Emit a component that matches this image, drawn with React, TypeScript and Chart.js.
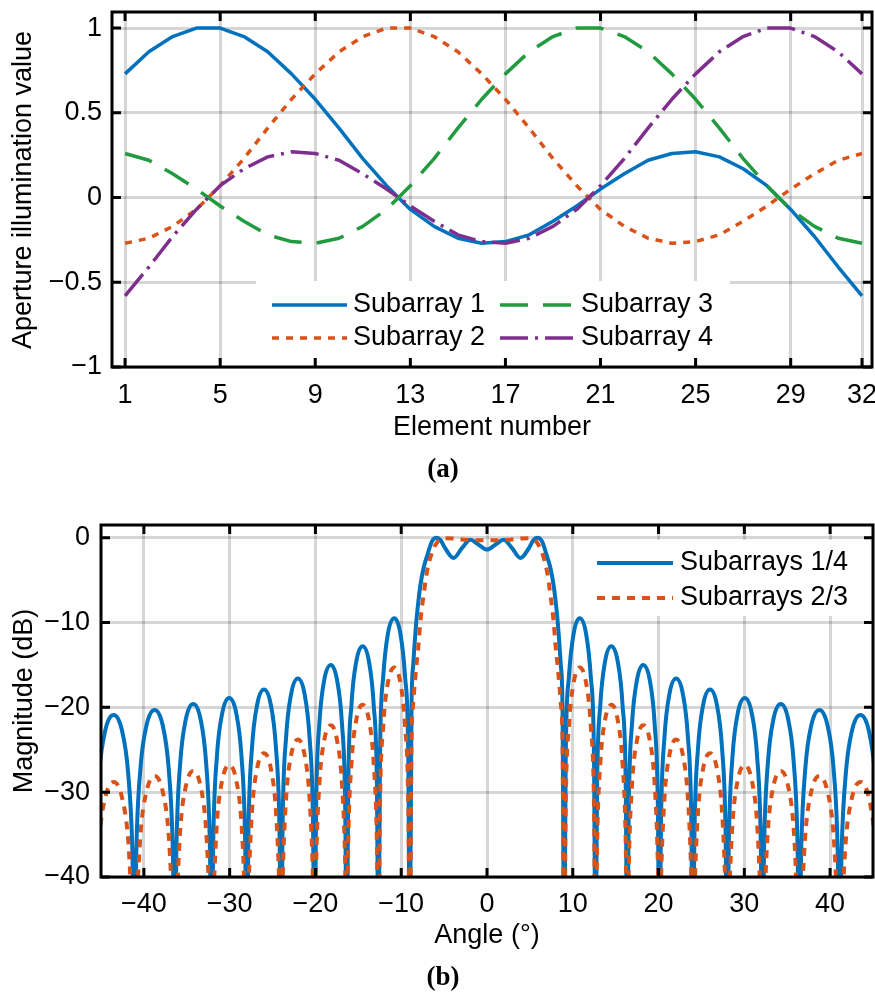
import React, { useEffect, useRef } from "react";
import { Chart, registerables } from "chart.js";

Chart.register(...registerables);

// ---------- (a) aperture illumination ----------
const ELEMENTS = [1, 2, 3, 4, 5, 6, 7, 8, 9, 10, 11, 12, 13, 14, 15, 16, 17, 18, 19, 20, 21, 22, 23, 24, 25, 26, 27, 28, 29, 30, 31, 32];
const SUBARRAY_1 = [0.73, 0.86, 0.95, 1.0, 1.0, 0.95, 0.86, 0.73, 0.58, 0.41, 0.23, 0.07, -0.07, -0.17, -0.24, -0.27, -0.26, -0.22, -0.14, -0.05, 0.05, 0.14, 0.22, 0.26, 0.27, 0.24, 0.17, 0.07, -0.07, -0.23, -0.41, -0.58];
const SUBARRAY_2 = [-0.27, -0.24, -0.17, -0.07, 0.07, 0.23, 0.41, 0.58, 0.73, 0.86, 0.95, 1.0, 1.0, 0.95, 0.86, 0.73, 0.58, 0.41, 0.23, 0.07, -0.07, -0.17, -0.24, -0.27, -0.26, -0.22, -0.14, -0.05, 0.05, 0.14, 0.22, 0.26];
const SUBARRAY_3 = [0.26, 0.22, 0.14, 0.05, -0.05, -0.14, -0.22, -0.26, -0.27, -0.24, -0.17, -0.07, 0.07, 0.23, 0.41, 0.58, 0.73, 0.86, 0.95, 1.0, 1.0, 0.95, 0.86, 0.73, 0.58, 0.41, 0.23, 0.07, -0.07, -0.17, -0.24, -0.27];
const SUBARRAY_4 = [-0.58, -0.41, -0.23, -0.07, 0.07, 0.17, 0.24, 0.27, 0.26, 0.22, 0.14, 0.05, -0.05, -0.14, -0.22, -0.26, -0.27, -0.24, -0.17, -0.07, 0.07, 0.23, 0.41, 0.58, 0.73, 0.86, 0.95, 1.0, 1.0, 0.95, 0.86, 0.73];
const X_TICKS_A = [1, 5, 9, 13, 17, 21, 25, 29, 32];
const Y_TICKS_A = [-1, -0.5, 0, 0.5, 1];

// ---------- (b) beam pattern ----------
const ANGLES = [
  -45.95, -45.71, -45.22, -44.5, -43.53, -42.56, -41.83, -41.34,
  -41.1, -40.87, -40.4, -39.69, -38.75, -37.81, -37.11, -36.64,
  -36.4, -36.19, -35.76, -35.11, -34.25, -33.39, -32.75, -32.32,
  -32.1, -31.9, -31.49, -30.87, -30.05, -29.23, -28.62, -28.21,
  -28.0, -27.8, -27.4, -26.8, -26.0, -25.2, -24.6, -24.2,
  -24.0, -23.81, -23.42, -22.83, -22.05, -21.27, -20.69, -20.3,
  -20.1, -19.91, -19.54, -18.98, -18.2, -17.48, -16.91, -16.54,
  -16.35, -16.17, -15.8, -15.24, -14.5, -13.76, -13.21, -12.84,
  -12.65, -12.47, -12.1, -11.55, -10.8, -10.1, -9.55, -9.18,
  -9.0, -8.8, -8.6, -8.25, -8.0, -7.75, -7.4, -7.0, -6.4, -5.85, -5.4, -4.9, -3.9, -2.9, -1.95, -1.0,
  0,
  1.0, 1.95, 2.9, 3.9, 4.9, 5.4, 5.85, 6.4, 7.0, 7.4, 7.75, 8.0, 8.25, 8.6, 8.8, 9.0,
  9.18, 9.55, 10.1, 10.8, 11.55, 12.1, 12.47, 12.65,
  12.84, 13.21, 13.76, 14.5, 15.24, 15.8, 16.17, 16.35,
  16.54, 16.91, 17.48, 18.2, 18.98, 19.54, 19.91, 20.1,
  20.3, 20.69, 21.27, 22.05, 22.83, 23.42, 23.81, 24.0,
  24.2, 24.6, 25.2, 26.0, 26.8, 27.4, 27.8, 28.0,
  28.21, 28.62, 29.23, 30.05, 30.87, 31.49, 31.9, 32.1,
  32.32, 32.75, 33.39, 34.25, 35.11, 35.76, 36.19, 36.4,
  36.64, 37.11, 37.81, 38.75, 39.69, 40.4, 40.87, 41.1,
  41.34, 41.83, 42.56, 43.53, 44.5, 45.22, 45.71, 45.95,
];
const MAG_SUB_14 = [
  -50, -37.0, -27.8, -22.7, -20.9, -22.7, -27.8, -37.0,
  -50, -36.4, -27.2, -22.1, -20.3, -22.1, -27.2, -36.4,
  -50, -35.7, -26.5, -21.4, -19.6, -21.4, -26.5, -35.7,
  -50, -35.0, -25.8, -20.7, -18.9, -20.7, -25.8, -35.0,
  -50, -34.0, -24.8, -19.7, -17.9, -19.7, -24.8, -34.0,
  -50, -32.7, -23.5, -18.4, -16.6, -18.4, -23.5, -32.7,
  -50, -31.1, -21.9, -16.8, -15.0, -16.8, -21.9, -31.1,
  -50, -28.9, -19.7, -14.6, -12.8, -14.6, -19.7, -28.9,
  -50, -25.6, -16.4, -11.3, -9.5, -11.3, -16.4, -25.6,
  -50, -20.0, -15.0, -10.0, -7.5, -5.5, -3.6, -2.2, -0.4, 0.0, -0.3, -1.2, -2.4, -1.2, -0.25, -0.8,
  -1.4,
  -0.8, -0.25, -1.2, -2.4, -1.2, -0.3, 0.0, -0.4, -2.2, -3.6, -5.5, -7.5, -10.0, -15.0, -20.0, -50,
  -25.6, -16.4, -11.3, -9.5, -11.3, -16.4, -25.6, -50,
  -28.9, -19.7, -14.6, -12.8, -14.6, -19.7, -28.9, -50,
  -31.1, -21.9, -16.8, -15.0, -16.8, -21.9, -31.1, -50,
  -32.7, -23.5, -18.4, -16.6, -18.4, -23.5, -32.7, -50,
  -34.0, -24.8, -19.7, -17.9, -19.7, -24.8, -34.0, -50,
  -35.0, -25.8, -20.7, -18.9, -20.7, -25.8, -35.0, -50,
  -35.7, -26.5, -21.4, -19.6, -21.4, -26.5, -35.7, -50,
  -36.4, -27.2, -22.1, -20.3, -22.1, -27.2, -36.4, -50,
  -37.0, -27.8, -22.7, -20.9, -22.7, -27.8, -37.0, -50,
];
const MAG_SUB_23 = [
  -50, -44.9, -35.7, -30.6, -28.8, -30.6, -35.7, -44.9,
  -50, -44.2, -35.0, -29.9, -28.1, -29.9, -35.0, -44.2,
  -50, -43.6, -34.4, -29.3, -27.5, -29.3, -34.4, -43.6,
  -50, -42.9, -33.7, -28.6, -26.8, -28.6, -33.7, -42.9,
  -50, -41.5, -32.3, -27.2, -25.4, -27.2, -32.3, -41.5,
  -50, -39.9, -30.7, -25.6, -23.8, -25.6, -30.7, -39.9,
  -50, -38.2, -29.0, -23.9, -22.1, -23.9, -29.0, -38.2,
  -50, -35.8, -26.6, -21.5, -19.7, -21.5, -26.6, -35.8,
  -50, -31.4, -22.2, -17.1, -15.3, -17.1, -22.2, -31.4,
  -50, -24.0, -19.5, -15.3, -12.8, -9.7, -6.8, -4.0, -1.7, -0.6, -0.2, -0.05, -0.1, -0.2, -0.25, -0.3,
  -0.3,
  -0.3, -0.25, -0.2, -0.1, -0.05, -0.2, -0.6, -1.7, -4.0, -6.8, -9.7, -12.8, -15.3, -19.5, -24.0, -50,
  -31.4, -22.2, -17.1, -15.3, -17.1, -22.2, -31.4, -50,
  -35.8, -26.6, -21.5, -19.7, -21.5, -26.6, -35.8, -50,
  -38.2, -29.0, -23.9, -22.1, -23.9, -29.0, -38.2, -50,
  -39.9, -30.7, -25.6, -23.8, -25.6, -30.7, -39.9, -50,
  -41.5, -32.3, -27.2, -25.4, -27.2, -32.3, -41.5, -50,
  -42.9, -33.7, -28.6, -26.8, -28.6, -33.7, -42.9, -50,
  -43.6, -34.4, -29.3, -27.5, -29.3, -34.4, -43.6, -50,
  -44.2, -35.0, -29.9, -28.1, -29.9, -35.0, -44.2, -50,
  -44.9, -35.7, -30.6, -28.8, -30.6, -35.7, -44.9, -50,
];
const X_TICKS_B = [-40, -30, -20, -10, 0, 10, 20, 30, 40];
const Y_TICKS_B = [-40, -30, -20, -10, 0];

// ---------- styling ----------
const FONT = '"Liberation Sans", Arial, Helvetica, sans-serif';
const FS = 27;
const GRID = "rgba(0,0,0,0.16)";
const BLUE = "#0072BD";
const ORANGE = "#D95319";
const GREEN = "#229A3F";
const PURPLE = "#7E2F8E";

const fmt = (v: number) => (v < 0 ? "\u2212" + String(Math.abs(v)) : String(v));
const pts = (xs: number[], ys: number[]) => xs.map((x, i) => ({ x, y: ys[i] }));

type DecorOpts = {
  xTicks: number[];
  yTicks: number[];
  xTitle: string;
  xTitlePos: [number, number];
  yTitle: string;
  yTitlePos: [number, number];
  box: [number, number, number, number];
  items: [number, number, number][];
  sampleLen: number;
  textOff: number;
};

function decorPlugin(o: DecorOpts) {
  return {
    id: "decor",
    afterDatasetsDraw(chart: any) {
      const ctx = chart.ctx as CanvasRenderingContext2D;
      const { left, right, top, bottom } = chart.chartArea;
      const xs = chart.scales.x;
      const ys = chart.scales.y;
      ctx.save();
      // legend
      ctx.fillStyle = "#fff";
      ctx.fillRect(o.box[0], o.box[1], o.box[2], o.box[3]);
      ctx.font = `${FS}px ${FONT}`;
      ctx.textBaseline = "middle";
      ctx.textAlign = "left";
      for (const [i, sx, sy] of o.items) {
        const ds = chart.data.datasets[i];
        ctx.beginPath();
        ctx.setLineDash(ds.borderDash || []);
        ctx.lineDashOffset = 0;
        ctx.lineCap = "butt";
        ctx.strokeStyle = ds.borderColor;
        ctx.lineWidth = ds.borderWidth;
        ctx.moveTo(sx, sy);
        ctx.lineTo(sx + o.sampleLen, sy);
        ctx.stroke();
        ctx.setLineDash([]);
        ctx.fillStyle = "#000";
        ctx.fillText(ds.label, sx + o.textOff, sy);
      }
      // frame and inward ticks
      ctx.setLineDash([]);
      ctx.strokeStyle = "#000";
      ctx.lineWidth = 3;
      ctx.beginPath();
      for (const t of o.xTicks) {
        const p = xs.getPixelForValue(t);
        ctx.moveTo(p, bottom);
        ctx.lineTo(p, bottom - 9);
        ctx.moveTo(p, top);
        ctx.lineTo(p, top + 9);
      }
      for (const t of o.yTicks) {
        const p = ys.getPixelForValue(t);
        ctx.moveTo(left, p);
        ctx.lineTo(left + 9, p);
        ctx.moveTo(right, p);
        ctx.lineTo(right - 9, p);
      }
      ctx.stroke();
      ctx.strokeRect(left, top, right - left, bottom - top);
      // axis titles
      ctx.fillStyle = "#000";
      ctx.textAlign = "center";
      ctx.textBaseline = "middle";
      ctx.fillText(o.xTitle, o.xTitlePos[0], o.xTitlePos[1]);
      ctx.translate(o.yTitlePos[0], o.yTitlePos[1]);
      ctx.rotate(-Math.PI / 2);
      ctx.fillText(o.yTitle, 0, 0);
      ctx.restore();
    },
  };
}

function axes(p: {
  xMin: number; xMax: number; yMin: number; yMax: number;
  xTicks: number[]; yTicks: number[];
  yWidth: number; xHeight: number; xPad: number; yPad: number;
}) {
  const zeroPad = (s: any) => {
    s.paddingLeft = 0;
    s.paddingRight = 0;
    s.paddingTop = 0;
    s.paddingBottom = 0;
  };
  const tickFont = { family: FONT, size: FS };
  return {
    x: {
      type: "linear",
      min: p.xMin,
      max: p.xMax,
      afterBuildTicks: (s: any) => { s.ticks = p.xTicks.map((v) => ({ value: v })); },
      afterFit: (s: any) => { s.height = p.xHeight; zeroPad(s); },
      grid: { color: GRID, lineWidth: 3, drawTicks: false },
      border: { display: false },
      ticks: { padding: p.xPad, color: "#000", font: tickFont, maxRotation: 0, autoSkip: false, callback: (v: any) => fmt(Number(v)) },
    },
    y: {
      type: "linear",
      min: p.yMin,
      max: p.yMax,
      afterBuildTicks: (s: any) => { s.ticks = p.yTicks.map((v) => ({ value: v })); },
      afterFit: (s: any) => { s.width = p.yWidth; zeroPad(s); },
      grid: { color: GRID, lineWidth: 3, drawTicks: false },
      border: { display: false },
      ticks: { padding: p.yPad, color: "#000", font: tickFont, autoSkip: false, callback: (v: any) => fmt(Number(v)) },
    },
  };
}

export default function App() {
  const refA = useRef<HTMLCanvasElement>(null);
  const refB = useRef<HTMLCanvasElement>(null);

  useEffect(() => {
    const common = {
      responsive: false,
      animation: false,
      events: [],
      plugins: { legend: { display: false }, tooltip: { enabled: false }, title: { display: false } },
    };

    const chartA = new Chart(refA.current as HTMLCanvasElement, {
      type: "line",
      data: {
        datasets: [
          { label: "Subarray 1", data: pts(ELEMENTS, SUBARRAY_1), borderColor: BLUE, borderWidth: 3.5, borderDash: [], order: 3 },
          { label: "Subarray 2", data: pts(ELEMENTS, SUBARRAY_2), borderColor: ORANGE, borderWidth: 3.5, borderDash: [7, 7], order: 2 },
          { label: "Subarray 3", data: pts(ELEMENTS, SUBARRAY_3), borderColor: GREEN, borderWidth: 3.5, borderDash: [28, 15], order: 1 },
          { label: "Subarray 4", data: pts(ELEMENTS, SUBARRAY_4), borderColor: PURPLE, borderWidth: 3.5, borderDash: [28, 7, 3, 7], order: 0 },
        ].map((d) => ({ ...d, pointRadius: 0, tension: 0, fill: false, borderCapStyle: "butt", borderJoinStyle: "round" })),
      },
      options: {
        ...common,
        layout: { padding: { top: 12, right: 3, left: 0, bottom: 0 } },
        scales: axes({
          xMin: 0.45, xMax: 32.42, yMin: -1, yMax: 1.095,
          xTicks: X_TICKS_A, yTicks: Y_TICKS_A,
          yWidth: 112, xHeight: 113, xPad: 12, yPad: 10,
        }),
      } as any,
      plugins: [
        decorPlugin({
          xTicks: X_TICKS_A, yTicks: Y_TICKS_A,
          xTitle: "Element number", xTitlePos: [492, 428],
          yTitle: "Aperture illumination value", yTitlePos: [24, 190],
          box: [256, 281, 474, 86],
          items: [[0, 272, 305], [1, 272, 338], [2, 500, 305], [3, 500, 338]],
          sampleLen: 75, textOff: 81,
        }),
      ],
    } as any);

    const chartB = new Chart(refB.current as HTMLCanvasElement, {
      type: "line",
      data: {
        datasets: [
          { label: "Subarrays 1/4", data: pts(ANGLES, MAG_SUB_14), borderColor: BLUE, borderWidth: 4, borderDash: [], order: 1 },
          { label: "Subarrays 2/3", data: pts(ANGLES, MAG_SUB_23), borderColor: ORANGE, borderWidth: 4, borderDash: [8, 7], order: 0 },
        ].map((d) => ({ ...d, pointRadius: 0, cubicInterpolationMode: "monotone", fill: false, borderCapStyle: "butt", borderJoinStyle: "round" })),
      },
      options: {
        ...common,
        layout: { padding: { top: 35, right: 2, left: 0, bottom: 0 } },
        scales: axes({
          xMin: -45, xMax: 45, yMin: -40, yMax: 1.5,
          xTicks: X_TICKS_B, yTicks: Y_TICKS_B,
          yWidth: 101, xHeight: 117, xPad: 11, yPad: 11,
        }),
      } as any,
      plugins: [
        decorPlugin({
          xTicks: X_TICKS_B, yTicks: Y_TICKS_B,
          xTitle: "Angle (\u00B0)", xTitlePos: [487, 446],
          yTitle: "Magnitude (dB)", yTitlePos: [25, 211],
          box: [577, 50, 296, 76],
          items: [[0, 597, 73], [1, 597, 108]],
          sampleLen: 76, textOff: 83,
        }),
      ],
    } as any);

    return () => {
      chartA.destroy();
      chartB.destroy();
    };
  }, []);

  const capStyle: React.CSSProperties = {
    position: "absolute",
    left: 343,
    width: 200,
    textAlign: "center",
    font: 'bold 27px "Liberation Serif", "Times New Roman", serif',
    lineHeight: "30px",
    color: "#000",
  };

  return (
    <div style={{ position: "absolute", left: 0, top: 0, width: 875, height: 994, background: "#fff" }}>
      <canvas ref={refA} width={875} height={480} style={{ position: "absolute", left: 0, top: 0 }} />
      <canvas ref={refB} width={875} height={504} style={{ position: "absolute", left: 0, top: 490 }} />
      <div style={{ ...capStyle, top: 453 }}>(a)</div>
      <div style={{ ...capStyle, top: 961 }}>(b)</div>
    </div>
  );
}
